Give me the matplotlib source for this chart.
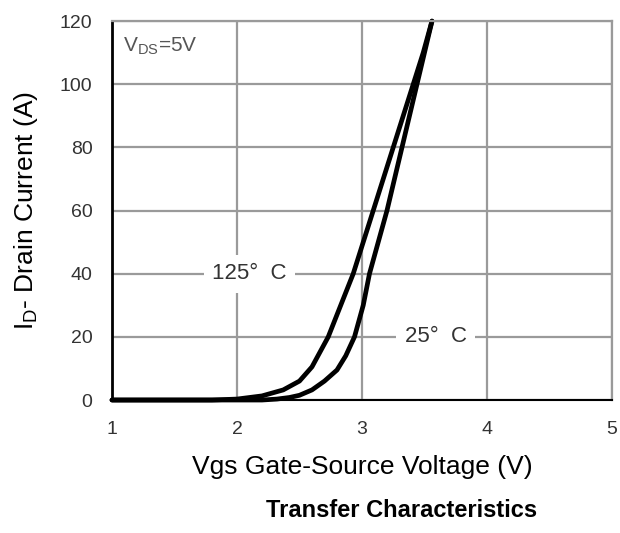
import matplotlib
matplotlib.use("Agg")
import matplotlib.pyplot as plt

plt.rcParams["font.family"] = ["Liberation Sans", "DejaVu Sans"]

# curve readings (Vgs in V, Id in A)
vgs_125 = [1.0, 1.8, 2.0, 2.2, 2.37, 2.5, 2.6, 2.73, 2.83, 2.93, 3.01, 3.09, 3.17, 3.25, 3.33, 3.41, 3.49, 3.56]
id_125 = [0, 0, 0.3, 1.3, 3.2, 6, 10.5, 20, 30, 40, 50, 60, 70, 80, 90, 100, 110, 120]

vgs_25 = [1.0, 2.2, 2.32, 2.42, 2.5, 2.6, 2.7, 2.8, 2.87, 2.94, 3.01, 3.06, 3.13, 3.2, 3.26, 3.32, 3.38, 3.44, 3.5, 3.56]
id_25 = [0, 0, 0.3, 0.8, 1.5, 3.2, 6, 9.5, 14, 20, 30, 40, 50, 60, 70, 80, 90, 100, 110, 120]

x_ticks = [1, 2, 3, 4, 5]
y_ticks = [0, 20, 40, 60, 80, 100, 120]

GRID = "#9a9a9a"

fig = plt.figure(figsize=(6.2, 5.33), dpi=100)
ax = fig.add_axes([0.1806, 0.2495, 0.8065, 0.711])

ax.set_xlim(1, 5)
ax.set_ylim(0, 120)
ax.set_xticks(x_ticks)
ax.set_yticks(y_ticks)
ax.tick_params(length=0, labelsize=14, labelcolor="#333333")
ax.tick_params(axis="x", pad=15)
ax.tick_params(axis="y", pad=14)
ax.grid(color=GRID, linewidth=1.6)
ax.set_axisbelow(True)

for side in ("top", "right"):
    ax.spines[side].set_color(GRID)
    ax.spines[side].set_linewidth(1.6)
ax.spines["left"].set_linewidth(2)
ax.spines["bottom"].set_linewidth(1.5)

ax.plot(vgs_125, id_125, color="black", linewidth=3.4, solid_capstyle="round", clip_on=False)
ax.plot(vgs_25, id_25, color="black", linewidth=3.4, solid_capstyle="round", clip_on=False)

box = dict(facecolor="white", edgecolor="none", pad=6)
ax.text(2.1, 40, "125°  C", fontsize=16, color="#333333", ha="center", va="center", bbox=box)
ax.text(3.59, 20, "25°  C", fontsize=16, color="#333333", ha="center", va="center", bbox=box)
ax.text(1.09, 112, r"V$_{\mathregular{DS}}$=5V", fontsize=15, color="#555555", ha="left", va="center")

ax.set_xlabel("Vgs Gate-Source Voltage (V)", fontsize=19, labelpad=12)
ax.set_ylabel(r"I$_{\mathregular{D}}$- Drain Current (A)", fontsize=19, labelpad=14)

fig.text(0.648, 0.043, "Transfer Characteristics", fontsize=17, fontweight="bold", ha="center", va="center")

fig.savefig("out.png", dpi=100)
